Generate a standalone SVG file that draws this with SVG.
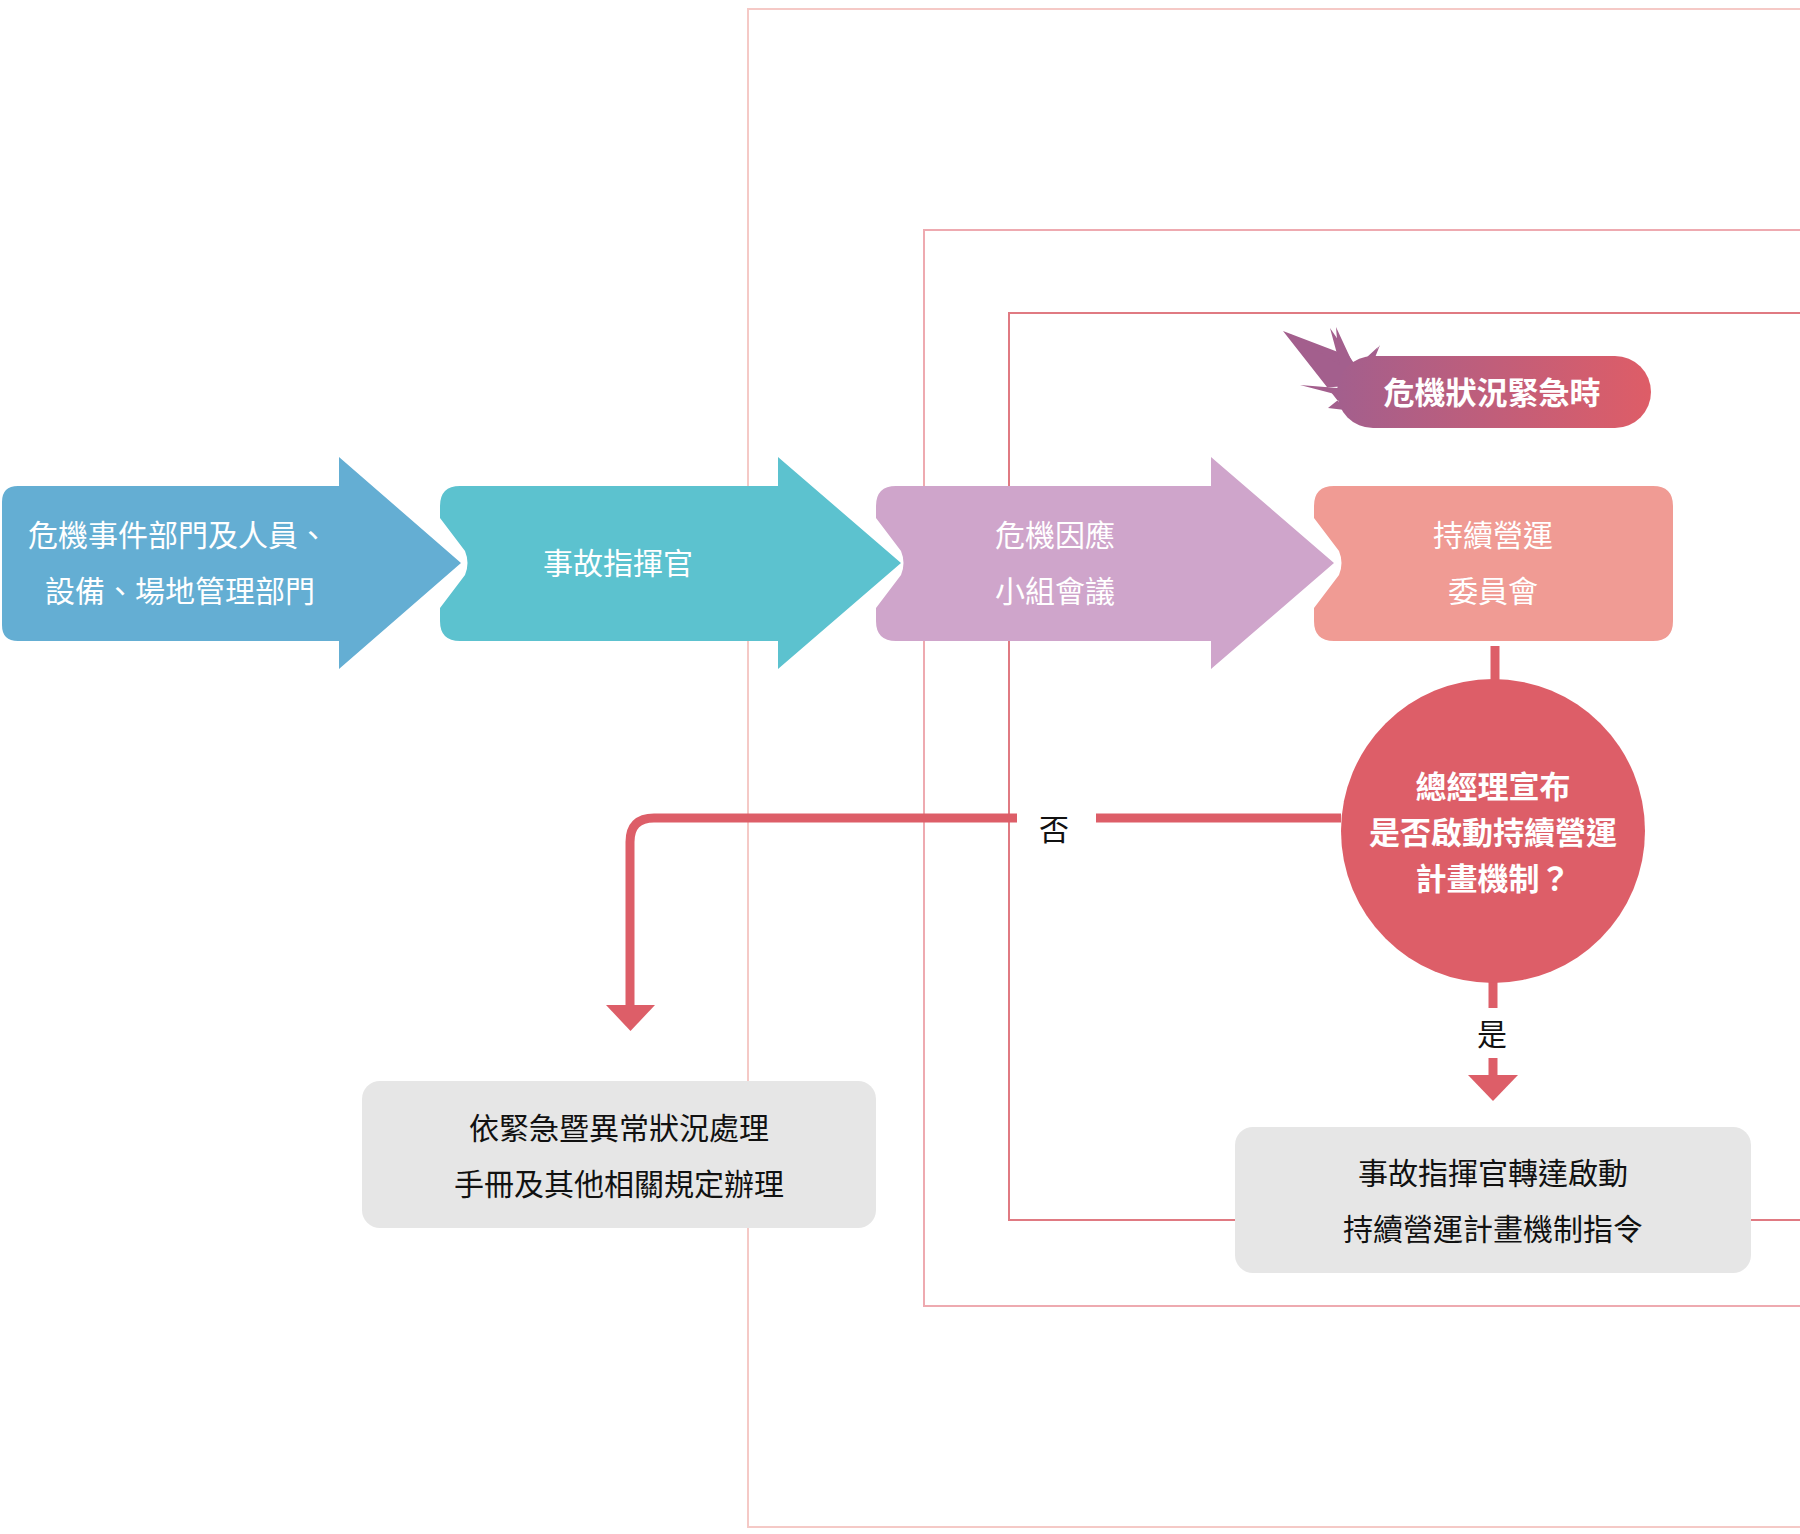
<svg xmlns="http://www.w3.org/2000/svg" width="1800" height="1534" viewBox="0 0 1800 1534">
<defs>
<linearGradient id="g" x1="0" x2="1"><stop offset="0" stop-color="#a35f8d"/><stop offset="1" stop-color="#de5d67"/></linearGradient>
<marker id="ah" viewBox="0 0 10 10" refX="5" refY="5" markerWidth="6" markerHeight="6" markerUnits="userSpaceOnUse" orient="auto"/>
</defs>
<style>
text{font-family:"Noto Sans CJK TC","Noto Sans CJK SC",sans-serif;text-anchor:middle}
.w{fill:#fff;font-size:30px}
.b{fill:#111;font-size:30px}
.frame{fill:none}
.ln{fill:none;stroke:#dd5e68;stroke-width:9}
</style>
<rect width="1800" height="1534" fill="#fff"/>
<g id="frames">
<path class="frame" d="M1800 9H748V1527H1800" stroke="#f5c9c6" stroke-width="2"/>
<path class="frame" d="M1800 230H924V1306H1800" stroke="#eeaab0" stroke-width="2"/>
<path class="frame" d="M1800 313H1009V1220H1800" stroke="#e07a82" stroke-width="2"/>
</g>
<g id="n1"><path d="M18 486H339V457L461 563L339 669V641H18Q2 641 2 625V502Q2 486 18 486Z" fill="#64aed3" stroke="#fff" stroke-width="0"/>
<text class="w" x="178" y="546">危機事件部門及人員、</text><text class="w" x="180" y="602">設備、場地管理部門</text></g>
<g id="n2"><path d="M460 486H778V457L901 563L778 669V641H460Q440 641 440 621V608L465 575Q470 563 465 551L440 518V506Q440 486 460 486Z" fill="#5cc2cf"/>
<text class="w" x="618" y="574">事故指揮官</text></g>
<g id="n3"><path d="M896 486H1211V457L1334 563L1211 669V641H896Q876 641 876 621V608L901 575Q906 563 901 551L876 518V506Q876 486 896 486Z" fill="#cfa5cb"/>
<text class="w" x="1055" y="546">危機因應</text><text class="w" x="1055" y="602">小組會議</text></g>
<g id="n4"><path d="M1334 486H1653Q1673 486 1673 506V621Q1673 641 1653 641H1334Q1314 641 1314 621V608L1339 575Q1344 563 1339 551L1314 518V506Q1314 486 1334 486Z" fill="#f09b94"/>
<text class="w" x="1493" y="546">持續營運</text><text class="w" x="1493" y="602">委員會</text></g>
<g id="badge">
<path d="M1283 331L1338 352L1336 327L1355 368L1378 347L1360 385L1320 388L1348 392L1328 408L1345 410Z" fill="#a35f8d"/>
<path d="M1290 334L1340 365L1330 328L1360 372L1380 345L1362 390L1300 385L1350 398Z" fill="#a35f8d"/>
<rect x="1337" y="356" width="314" height="72" rx="36" fill="url(#g)"/>
<text x="1492" y="404" fill="#fff" font-size="31" font-weight="bold">危機狀況緊急時</text></g>
<g id="connectors">
<line class="ln" x1="1495" y1="646" x2="1495" y2="682"/>
<path class="ln" d="M1341 818H1096M1017 818H654Q630 818 630 842V1008"/>
<path d="M606 1005H655L630.5 1031Z" fill="#dd5e68"/>
<line class="ln" x1="1493" y1="980" x2="1493" y2="1008"/>
<line class="ln" x1="1493" y1="1058" x2="1493" y2="1078"/>
<path d="M1468 1075H1518L1493 1101Z" fill="#dd5e68"/>
<text class="b" x="1054" y="840" font-size="28">否</text>
<text class="b" x="1492" y="1045" font-size="28">是</text>
</g>
<g id="decision"><circle cx="1493" cy="831" r="152" fill="#dd5e68"/>
<text x="1493" y="798" fill="#fff" font-size="31" font-weight="bold">總經理宣布</text>
<text x="1493" y="844" fill="#fff" font-size="31" font-weight="bold">是否啟動持續營運</text>
<text x="1493" y="890" fill="#fff" font-size="31" font-weight="bold">計畫機制？</text></g>
<g id="no"><rect x="362" y="1081" width="514" height="147" rx="18" fill="#e6e6e6"/>
<text class="b" x="619" y="1139">依緊急暨異常狀況處理</text><text class="b" x="619" y="1195">手冊及其他相關規定辦理</text></g>
<g id="yes"><rect x="1235" y="1127" width="516" height="146" rx="18" fill="#e6e6e6"/>
<text class="b" x="1493" y="1184">事故指揮官轉達啟動</text><text class="b" x="1493" y="1240">持續營運計畫機制指令</text></g>
</svg>
